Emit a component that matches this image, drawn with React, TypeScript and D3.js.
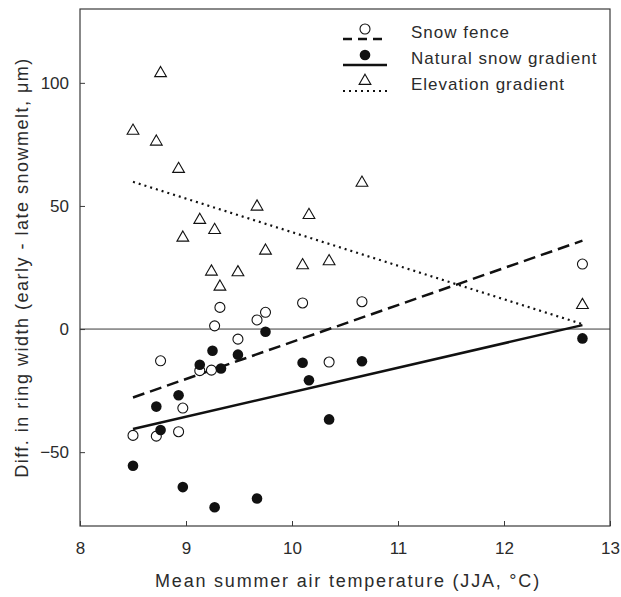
import React, { useEffect, useRef } from 'react';
import * as d3 from 'd3';

// Snow fence (open circles)
const fenceX = [8.5, 8.72, 8.76, 8.93, 8.97, 9.13, 9.24, 9.27, 9.32, 9.49, 9.67, 9.75, 10.1, 10.35, 10.66, 12.74];
const fenceY = [-43.2, -43.5, -12.9, -41.7, -32.1, -16.9, -16.7, 1.3, 8.8, -4.1, 3.7, 6.8, 10.6, -13.4, 11.1, 26.4];

// Natural snow gradient (filled circles)
const naturalX = [8.5, 8.72, 8.76, 8.93, 8.97, 9.13, 9.25, 9.27, 9.33, 9.49, 9.67, 9.75, 10.1, 10.16, 10.35, 10.66, 12.74];
const naturalY = [-55.5, -31.5, -41.0, -26.9, -64.2, -14.5, -8.8, -72.4, -16.0, -10.4, -68.8, -1.1, -13.7, -20.8, -36.7, -13.1, -3.8];

// Elevation gradient (open triangles)
const elevX = [8.5, 8.72, 8.76, 8.93, 8.97, 9.13, 9.24, 9.27, 9.32, 9.49, 9.67, 9.75, 10.1, 10.16, 10.35, 10.66, 12.74];
const elevY = [80.5, 76.1, 103.9, 65.0, 37.1, 44.3, 23.3, 40.2, 17.2, 23.0, 49.7, 31.8, 25.9, 46.3, 27.5, 59.4, 9.7];

// regression line end points
const fitX = [8.5, 12.74];
const fenceFit = [-27.8, 35.9];
const naturalFit = [-40.6, 1.6];
const elevFit = [59.8, 2.0];

const xTicks = [8, 9, 10, 11, 12, 13];
const yTicks = [-50, 0, 50, 100];

const legendLabels = ['Snow fence', 'Natural snow gradient', 'Elevation gradient'];

const FONT = '"Liberation Sans", Arial, sans-serif';
const TEXT = '#2b2b2b';

export default function App() {
  const svgRef = useRef<SVGSVGElement>(null);

  useEffect(() => {
    document.body.style.margin = '0';
    const W = 621, H = 597;
    const left = 80, right = 610, top = 9, bottom = 526;

    const svg = d3.select(svgRef.current).attr('width', W).attr('height', H);
    svg.selectAll('*').remove();

    const x = d3.scaleLinear().domain([8, 13]).range([left, right]);
    const y = d3.scaleLinear().domain([-80, 130]).range([bottom, top]);

    // frame
    svg.append('rect')
      .attr('x', left).attr('y', top)
      .attr('width', right - left).attr('height', bottom - top)
      .attr('fill', 'none').attr('stroke', '#3a3a3a').attr('stroke-width', 1.2);

    // zero line
    svg.append('line')
      .attr('x1', left).attr('x2', right)
      .attr('y1', y(0)).attr('y2', y(0))
      .attr('stroke', '#3a3a3a').attr('stroke-width', 1);

    // axes, ticks pointing inward
    const xAxis = svg.append('g')
      .attr('transform', `translate(0,${bottom})`)
      .call(d3.axisBottom(x).tickValues(xTicks).tickSizeInner(-5).tickSizeOuter(0).tickPadding(16).tickFormat(d3.format('d')));
    xAxis.select('.domain').remove();
    xAxis.selectAll('line').attr('stroke', '#3a3a3a');
    xAxis.selectAll('text').attr('fill', TEXT).attr('font-size', 17).attr('font-family', FONT);

    const yAxis = svg.append('g')
      .attr('transform', `translate(${left},0)`)
      .call(d3.axisLeft(y).tickValues(yTicks).tickSizeInner(-5).tickSizeOuter(0).tickPadding(11).tickFormat(d3.format('d')));
    yAxis.select('.domain').remove();
    yAxis.selectAll('line').attr('stroke', '#3a3a3a');
    yAxis.selectAll('text').attr('fill', TEXT).attr('font-size', 17).attr('font-family', FONT);

    // axis titles
    svg.append('text')
      .attr('x', (left + right) / 2 + 3).attr('y', 587)
      .attr('text-anchor', 'middle')
      .attr('fill', TEXT).attr('font-size', 18).attr('font-family', FONT)
      .attr('letter-spacing', 1.8)
      .text('Mean summer air temperature (JJA, °C)');

    svg.append('text')
      .attr('transform', `translate(28,${(top + bottom) / 2}) rotate(-90)`)
      .attr('text-anchor', 'middle')
      .attr('fill', TEXT).attr('font-size', 18).attr('font-family', FONT)
      .attr('letter-spacing', 1.5)
      .text('Diff. in ring width (early - late snowmelt, μm)');

    // fitted lines
    const line = d3.line<[number, number]>().x(d => x(d[0])).y(d => y(d[1]));
    const fits = [
      { vals: fenceFit, dash: '12,6', w: 2.5 },
      { vals: naturalFit, dash: null, w: 2.5 },
      { vals: elevFit, dash: '2,4', w: 2.2 },
    ];
    fits.forEach(f => {
      svg.append('path')
        .attr('d', line(fitX.map((v, i) => [v, f.vals[i]] as [number, number])))
        .attr('fill', 'none').attr('stroke', '#111')
        .attr('stroke-width', f.w)
        .attr('stroke-dasharray', f.dash);
    });

    const tri = d3.symbol().type(d3.symbolTriangle).size(60);

    // points
    svg.append('g').selectAll('path')
      .data(elevX.map((v, i) => [v, elevY[i]]))
      .enter().append('path')
      .attr('d', tri)
      .attr('transform', d => `translate(${x(d[0])},${y(d[1])})`)
      .attr('fill', 'white').attr('stroke', '#111').attr('stroke-width', 1.1);

    svg.append('g').selectAll('circle')
      .data(fenceX.map((v, i) => [v, fenceY[i]]))
      .enter().append('circle')
      .attr('cx', d => x(d[0])).attr('cy', d => y(d[1])).attr('r', 5)
      .attr('fill', 'white').attr('stroke', '#111').attr('stroke-width', 1.1);

    svg.append('g').selectAll('circle')
      .data(naturalX.map((v, i) => [v, naturalY[i]]))
      .enter().append('circle')
      .attr('cx', d => x(d[0])).attr('cy', d => y(d[1])).attr('r', 5.3)
      .attr('fill', '#111');

    // legend
    const lg = svg.append('g');
    legendLabels.forEach((label, i) => {
      const cy = 32 + i * 26;
      const f = fits[i];
      lg.append('line')
        .attr('x1', 343).attr('x2', 387)
        .attr('y1', cy + 7).attr('y2', cy + 7)
        .attr('stroke', '#111').attr('stroke-width', f.w)
        .attr('stroke-dasharray', i === 0 ? '9,6' : f.dash);
      const sx = 365, sy = cy - 3;
      if (i === 0) {
        lg.append('circle').attr('cx', sx).attr('cy', sy).attr('r', 5)
          .attr('fill', 'white').attr('stroke', '#111').attr('stroke-width', 1.1);
      } else if (i === 1) {
        lg.append('circle').attr('cx', sx).attr('cy', sy).attr('r', 5.3).attr('fill', '#111');
      } else {
        lg.append('path').attr('d', tri).attr('transform', `translate(${sx},${sy})`)
          .attr('fill', 'white').attr('stroke', '#111').attr('stroke-width', 1.1);
      }
      lg.append('text')
        .attr('x', 411).attr('y', cy).attr('dy', '0.35em')
        .attr('fill', TEXT).attr('font-size', 17).attr('font-family', FONT)
        .attr('letter-spacing', 1)
        .text(label);
    });
  }, []);

  return <svg ref={svgRef} style={{ display: 'block' }}></svg>;
}
